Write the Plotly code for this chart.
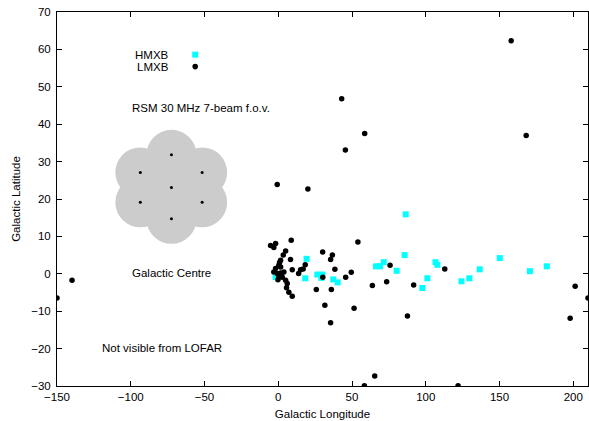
import plotly.graph_objects as go

# ---- data (galactic longitude, latitude in degrees) ----
hmxb_l = [86.4, 19.2, 18.3, 26.5, 29.9, 29.2, 37.3, 40.3, -1.8, 66.3, 69.0, 71.5, 80.3,
          85.7, 97.7, 101.1, 106.6, 107.9, 124.2, 129.6, 136.6, 150.2, 170.6, 182.1]
hmxb_b = [15.9, 4.0, -1.2, -0.2, -0.2, -1.1, -1.5, -2.3, -0.9, 2.0, 2.0, 3.1, 0.8,
          5.0, -3.8, -1.2, 3.1, 2.4, -2.0, -1.2, 1.2, 4.2, 0.7, 2.0]

lmxb_l = [-150.0, -139.8, -0.7, 20.1, 43.0, 45.5, 58.6, 157.9, 168.1, 58.4, 65.4, 121.9,
          197.9, 201.3, 210.0, 87.6, 91.8, 112.9, 73.5, 75.8, 63.8, 54.0, 51.4, 49.5,
          45.7, 35.5, 31.6, 36.0, 38.4, 36.7, 35.5, 30.1, 30.2, 25.8, 18.3, 16.9, 13.8,
          -5.2, -1.8, -3.0, 8.8, 3.4, 5.0, 1.6, 8.3, 0.4, 9.5, 15.1, -3.0, -0.7, 1.6,
          3.8, 0.4, 2.7, 5.0, 6.1, 5.6, 7.2, 9.5, 1.6, -1.8, 0.9, 2.2, -0.2]
lmxb_b = [-6.5, -1.7, 23.9, 22.7, 46.8, 33.1, 37.5, 62.3, 37.0, -29.9, -27.3, -29.9,
          -11.9, -3.3, -6.5, -11.3, -3.0, 1.3, -2.1, 2.3, -3.1, 8.5, -9.2, 0.4,
          -0.9, -13.1, -8.4, -4.2, 1.2, 5.0, 3.8, 5.8, -0.9, -4.2, 2.4, 1.3, 0.1,
          7.6, 8.1, 7.0, 9.0, 5.0, 6.1, 3.6, 3.8, 2.3, 1.1, 1.1, 0.5, 0.1, 0.2,
          0.5, -0.9, -0.9, -1.7, -2.6, -3.7, -4.9, -6.0, 1.8, 1.4, 3.0, -0.3, -1.6]

# RSM 30 MHz 7-beam field of view (beam centres)
beam_l = [-72.4, -72.4, -93.5, -51.6, -93.5, -51.6, -72.4]
beam_b = [23.1, 31.8, 27.1, 27.1, 19.1, 19.1, 14.7]
beam_radius_px = 25

x_ticks = [-150, -100, -50, 0, 50, 100, 150, 200]
y_ticks = [-30, -20, -10, 0, 10, 20, 30, 40, 50, 60, 70]

FONT = "Liberation Sans, Arial, sans-serif"

fig = go.Figure()

# beam shapes
shapes = []
for bl, bb in zip(beam_l, beam_b):
    shapes.append(dict(type="circle", xref="x", yref="y", xsizemode="pixel", ysizemode="pixel",
                       xanchor=bl, yanchor=bb, x0=-beam_radius_px, x1=beam_radius_px,
                       y0=-beam_radius_px, y1=beam_radius_px,
                       fillcolor="#cccccc", line=dict(width=0), layer="below"))

# legend symbols (drawn to the right of their labels, as in the original)
shapes.append(dict(type="rect", xref="x", yref="y", xsizemode="pixel", ysizemode="pixel",
                   xanchor=-56.3, yanchor=58.6, x0=-3, x1=3, y0=-3, y1=3,
                   fillcolor="#00ffff", line=dict(width=0)))
shapes.append(dict(type="circle", xref="x", yref="y", xsizemode="pixel", ysizemode="pixel",
                   xanchor=-56.3, yanchor=55.4, x0=-2.8, x1=2.8, y0=-2.8, y1=2.8,
                   fillcolor="black", line=dict(width=0)))

fig.add_trace(go.Scatter(x=beam_l, y=beam_b, mode="markers", name="beam centres",
                         marker=dict(color="black", size=3), showlegend=False, hoverinfo="skip"))

fig.add_trace(go.Scatter(x=hmxb_l, y=hmxb_b, mode="markers", name="HMXB",
                         marker=dict(symbol="square", color="#00ffff", size=6, line=dict(width=0)),
                         showlegend=False))
fig.add_trace(go.Scatter(x=lmxb_l, y=lmxb_b, mode="markers", name="LMXB",
                         marker=dict(symbol="circle", color="black", size=5.5, line=dict(width=0)),
                         showlegend=False))

annots = [
    dict(x=-72.4, y=58.6, text="HMXB", xanchor="right"),
    dict(x=-72.4, y=55.4, text="LMXB", xanchor="right"),
    dict(x=-52.1, y=44.2, text="RSM 30 MHz 7-beam f.o.v.", xanchor="center"),
    dict(x=-72.6, y=0.2, text="Galactic Centre", xanchor="center"),
    dict(x=-78.5, y=-19.9, text="Not visible from LOFAR", xanchor="center"),
]
annotations = []
for a in annots:
    annotations.append(dict(xref="x", yref="y", showarrow=False, yanchor="middle",
                            font=dict(family=FONT, size=11.5, color="black"), **a))

axis_common = dict(showline=True, linecolor="black", linewidth=1, mirror="ticks",
                   ticks="inside", ticklen=5, tickwidth=1, tickcolor="black",
                   showgrid=False, zeroline=False,
                   tickfont=dict(family=FONT, size=11.5, color="black"))

fig.update_layout(
    width=589, height=421,
    margin=dict(l=57, r=1, t=12, b=35),
    paper_bgcolor="white", plot_bgcolor="white",
    showlegend=False,
    shapes=shapes,
    annotations=annotations,
    xaxis=dict(range=[-150, 210], tickvals=x_ticks,
               title=dict(text="Galactic Longitude", font=dict(family=FONT, size=11.5, color="black"),
                          standoff=8),
               **axis_common),
    yaxis=dict(range=[-30, 70], tickvals=y_ticks, ticklabelstandoff=3,
               title=dict(text="Galactic Latitude", font=dict(family=FONT, size=11.5, color="black"),
                          standoff=8),
               **axis_common),
)

fig.write_html("out.html", config={"displayModeBar": False},
               post_script="document.body.style.margin='0';")
